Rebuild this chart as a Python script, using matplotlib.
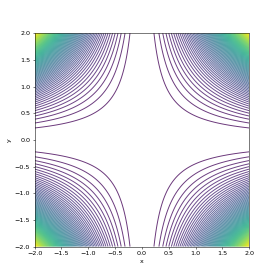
import numpy as np
import matplotlib
matplotlib.use("Agg")
import matplotlib.pyplot as plt

# Grid and surface
x_vals = np.linspace(-2, 2, 200)
y_vals = np.linspace(-2, 2, 200)
N_LEVELS = 100

X, Y = np.meshgrid(x_vals, y_vals)
Z = (X * Y) ** 2

fig = plt.figure(figsize=(6, 6))
ax = fig.add_subplot(111)
ax.contour(X, Y, Z, N_LEVELS, cmap="viridis", linewidths=1.5, alpha=0.8)
ax.set_xlabel("x")
ax.set_ylabel("y")

fig.savefig("out.png", dpi=277 / 6)
